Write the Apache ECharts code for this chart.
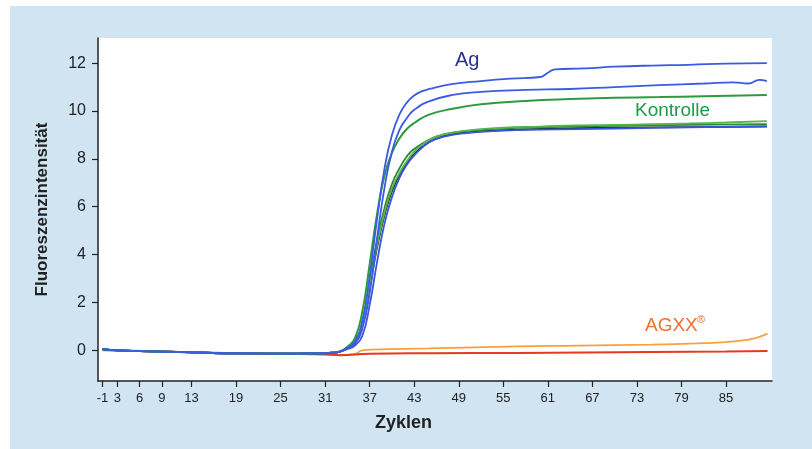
<!DOCTYPE html>
<html>
<head>
<meta charset="utf-8">
<script src="https://cdn.jsdelivr.net/npm/echarts@6/dist/echarts.min.js"></script>
<style>
  html, body { margin: 0; padding: 0; background: #fff; }
  #chart { width: 812px; height: 449px; }
</style>
</head>
<body>
<div id="chart"></div>
<script>
// tick positions on the cycle axis and the labels printed under them
const xTicks = [1, 3, 6, 9, 13, 19, 25, 31, 37, 43, 49, 55, 61, 67, 73, 79, 85]
const xTickLabels = ['-1', '3', '6', '9', '13', '19', '25', '31', '37', '43', '49', '55', '61', '67', '73', '79', '85']
const yTicks = [0, 2, 4, 6, 8, 10, 12]

// baseline shared by the amplification curves (cycle, fluorescence)
const baseline = [[1, 0.05], [3, 0.0], [6, -0.03], [9, -0.05], [13, -0.08], [17, -0.12], [21, -0.13], [25, -0.14], [29, -0.13], [32, -0.1], [33, -0.05]]

// Ag – blue
const ag1 = [[34, 0.1], [35, 0.35], [36, 1.2], [37, 3.1], [38, 5.5], [39, 7.6], [40, 9.0], [41, 9.85], [42, 10.35], [43, 10.65], [44, 10.82], [45, 10.92], [48, 11.12], [52, 11.25], [56, 11.35], [60, 11.42], [61, 11.6], [62, 11.74], [66, 11.78], [70, 11.85], [75, 11.9], [80, 11.93], [85, 11.98], [90.5, 12.0]]
const ag2 = [[34, 0.08], [35, 0.28], [36, 0.9], [37, 2.4], [38, 4.7], [39, 6.8], [40, 8.3], [41, 9.2], [42, 9.7], [43, 10.05], [45, 10.4], [48, 10.66], [52, 10.8], [58, 10.88], [64, 10.92], [70, 11.0], [76, 11.08], [82, 11.15], [86, 11.2], [88, 11.15], [89.5, 11.3], [90.5, 11.25]]
const ag3 = [[34, 0.05], [35, 0.2], [36, 0.6], [37, 1.9], [38, 3.7], [39, 5.3], [40, 6.4], [41, 7.2], [42, 7.75], [43, 8.15], [44, 8.45], [45, 8.7], [47, 8.93], [50, 9.08], [55, 9.18], [60, 9.22], [70, 9.27], [80, 9.32], [90.5, 9.37]]

// Kontrolle – green (plus one dark trace)
const k1 = [[34, 0.15], [35, 0.5], [36, 1.6], [37, 3.6], [38, 5.7], [39, 7.3], [40, 8.25], [41, 8.85], [42, 9.25], [43, 9.5], [45, 9.85], [48, 10.08], [52, 10.28], [58, 10.42], [64, 10.5], [70, 10.55], [76, 10.58], [82, 10.62], [90.5, 10.67]]
const k2 = [[34, 0.12], [35, 0.35], [36, 1.1], [37, 2.7], [38, 4.4], [39, 5.75], [40, 6.75], [41, 7.4], [42, 7.9], [43, 8.3], [44, 8.58], [45, 8.8], [47, 9.02], [50, 9.18], [55, 9.3], [60, 9.35], [65, 9.4], [70, 9.42], [75, 9.45], [80, 9.48], [85, 9.52], [90.5, 9.58]]
const k3 = [[34, 0.12], [35, 0.38], [36, 1.2], [37, 2.9], [38, 4.6], [39, 5.95], [40, 6.95], [41, 7.6], [42, 8.1], [43, 8.42], [45, 8.8], [47, 9.02], [50, 9.16], [55, 9.27], [60, 9.32], [70, 9.38], [80, 9.42], [90.5, 9.45]]
const dark = [[34, 0.1], [35, 0.32], [36, 1.0], [37, 2.6], [38, 4.3], [39, 5.65], [40, 6.65], [41, 7.3], [42, 7.8], [43, 8.2], [45, 8.7], [47, 8.95], [50, 9.1], [55, 9.2], [60, 9.25], [70, 9.3], [80, 9.33], [90.5, 9.35]]

// AGXX – orange / red
const agxx1 = [[1, 0.0], [9, -0.05], [17, -0.1], [25, -0.12], [31, -0.15], [33, -0.2], [35, -0.15], [36, 0.0], [37.5, 0.03], [45, 0.08], [57, 0.17], [65, 0.2], [75, 0.24], [82, 0.3], [86.5, 0.39], [88.7, 0.49], [90.6, 0.7]]
const agxx2 = [[1, 0.02], [9, -0.05], [17, -0.12], [25, -0.15], [31, -0.17], [33, -0.2], [37, -0.14], [45, -0.12], [57, -0.11], [75, -0.07], [85, -0.05], [90.6, -0.03]]

const withBase = pts => baseline.concat(pts)

const chart = echarts.init(document.getElementById('chart'))

const font = 'Liberation Sans, Arial, sans-serif'

function curve(name, data, color, width) {
  return {
    name,
    type: 'line',
    data,
    showSymbol: false,
    smooth: 0.5,
    lineStyle: { color, width: width || 1.8 },
    emphasis: { disabled: true },
  }
}

const option = {
  animation: false,
  backgroundColor: '#fff',
  textStyle: { fontFamily: font },
  graphic: [
    { type: 'rect', z: -10, shape: { x: 10, y: 6, width: 802, height: 443 }, style: { fill: '#d0e5f1' } },
    { type: 'text', left: 375, top: 414, style: { text: 'Zyklen', font: 'bold 18px ' + font, fill: '#222' } },
    { type: 'text', left: 455, top: 50, style: { text: 'Ag', font: '20px ' + font, fill: '#2b3590' } },
    { type: 'text', left: 635, top: 101, style: { text: 'Kontrolle', font: '19px ' + font, fill: '#1f9a48' } },
    { type: 'text', left: 645, top: 316, style: { text: 'AGXX', font: '19px ' + font, fill: '#f07030' } },
    { type: 'text', left: 697, top: 314, style: { text: '®', font: '11px ' + font, fill: '#f07030' } },
  ],
  grid: {
    left: 98,
    top: 38,
    right: 40,
    bottom: 68,
    show: true,
    backgroundColor: '#fff',
    borderWidth: 0,
  },
  xAxis: {
    type: 'value',
    min: 0.4,
    max: 91.2,
    splitLine: { show: false },
    axisLine: { show: true, onZero: false, lineStyle: { color: '#222', width: 1.5 } },
    axisTick: { show: true, customValues: xTicks, length: 6, lineStyle: { color: '#222', width: 1.2 } },
    axisLabel: {
      customValues: xTicks,
      formatter: v => xTickLabels[xTicks.indexOf(v)],
      color: '#222',
      fontSize: 13,
      margin: 11,
    },
  },
  yAxis: {
    type: 'value',
    min: -1.28,
    max: 13.05,
    name: 'Fluoreszenzintensität',
    nameLocation: 'middle',
    nameGap: 47,
    nameTextStyle: { fontSize: 17, fontWeight: 'bold', color: '#222' },
    splitLine: { show: false },
    axisLine: { show: true, lineStyle: { color: '#222', width: 1.5 } },
    axisTick: { show: true, customValues: yTicks, length: 6, lineStyle: { color: '#222', width: 1.2 } },
    axisLabel: { customValues: yTicks, color: '#222', fontSize: 16, margin: 12 },
  },
  series: [
    curve('agxx1', agxx1, '#f6a23a', 1.8),
    curve('agxx2', agxx2, '#e8391d', 2),
    curve('dark', withBase(dark), '#1b2a1b', 1.8),
    curve('k3', withBase(k3), '#2a8a36', 1.8),
    curve('k2', withBase(k2), '#55b64a', 1.8),
    curve('ag3', withBase(ag3), '#3b55e0', 1.8),
    curve('k1', withBase(k1), '#2e9a3e', 2),
    curve('ag2', withBase(ag2), '#3b5be3', 1.8),
    curve('ag1', withBase(ag1), '#3b5be3', 1.8),
  ],
}

chart.setOption(option)
</script>
</body>
</html>
